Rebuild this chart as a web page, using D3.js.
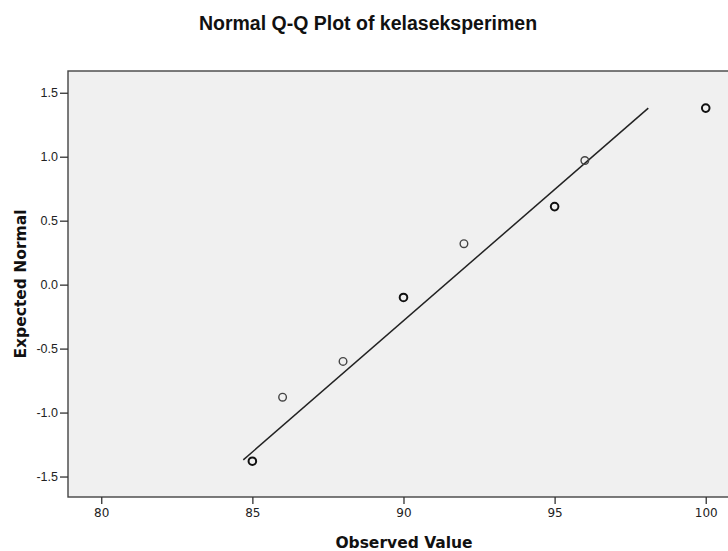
<!DOCTYPE html>
<meta charset="utf-8">
<style>
body { margin: 0; background: #fff; }
.frame { fill: #f0f0f0; stroke: #444; stroke-width: 1.4px; }
.axis path { display: none; }
.axis line { stroke: #333; stroke-width: 1.3px; }
.y.axis text { font-family: "Liberation Sans", Arial, sans-serif; font-size: 12.5px; fill: #222; }
.x.axis text { font-family: "DejaVu Sans", sans-serif; font-size: 12px; fill: #222; }
.label { font-family: "DejaVu Sans", sans-serif; font-weight: bold; font-size: 15.5px; fill: #111; }
.title { font-family: "Liberation Sans", Arial, sans-serif; font-weight: bold; font-size: 19.5px; fill: #111; }
path.fit { fill: none; stroke: #222; stroke-width: 1.5px; }
</style>
<body>
<div id="qq"></div>
</body>
<script src="https://cdn.jsdelivr.net/npm/d3@7"></script>
<script>

// observed values, expected normal quantiles, and how many cases share each point
var observed = [85, 86, 88, 90, 92, 95, 96, 100];
var expected = [-1.38, -0.88, -0.60, -0.10, 0.32, 0.61, 0.97, 1.38];
var counts   = [2, 1, 1, 2, 1, 2, 1, 2];

// reference line end points
var lineX = [84.7, 98.1];
var lineY = [-1.37, 1.38];

var xTicks = [80, 85, 90, 95, 100];
var yTicks = [-1.5, -1.0, -0.5, 0.0, 0.5, 1.0, 1.5];

var width = 728, height = 551;
var plot = {left: 68, top: 71, right: 742, bottom: 497};

var x = d3.scaleLinear().domain([78.9, 101.2]).range([plot.left, plot.right]),
    y = d3.scaleLinear().domain([-1.66, 1.67]).range([plot.bottom, plot.top]);

var svg = d3.select("#qq").append("svg")
    .attr("width", width)
    .attr("height", height);

svg.append("text")
    .attr("class", "title")
    .attr("x", 368)
    .attr("y", 30)
    .attr("text-anchor", "middle")
    .text("Normal Q-Q Plot of kelaseksperimen");

svg.append("rect")
    .attr("class", "frame")
    .attr("x", plot.left)
    .attr("y", plot.top)
    .attr("width", plot.right - plot.left)
    .attr("height", plot.bottom - plot.top);

// plain hyphen for negatives, like the original
svg.append("g")
    .attr("class", "y axis")
    .attr("transform", "translate(" + plot.left + ",0)")
    .call(d3.axisLeft(y).tickValues(yTicks).tickSize(8).tickPadding(2)
      .tickFormat(function(d) { return d.toFixed(1); }));

svg.append("g")
    .attr("class", "x axis")
    .attr("transform", "translate(0," + plot.bottom + ")")
    .call(d3.axisBottom(x).tickValues(xTicks).tickSize(7).tickPadding(4).tickFormat(d3.format("d")));

// the fit line
svg.append("path")
    .attr("class", "fit")
    .attr("d", d3.line()
      .x(function(d) { return x(d[0]); })
      .y(function(d) { return y(d[1]); })(d3.zip(lineX, lineY)));

svg.selectAll("circle.pt")
    .data(d3.range(observed.length))
  .enter().append("circle")
    .attr("class", "pt")
    .attr("cx", function(i) { return x(observed[i]); })
    .attr("cy", function(i) { return y(expected[i]); })
    .attr("r", 3.8)
    .style("fill", "none")
    .style("stroke", function(i) { return counts[i] > 1 ? "#111" : "#444"; })
    .style("stroke-width", function(i) { return counts[i] > 1 ? 2 : 1.4; });

svg.append("text")
    .attr("class", "label")
    .attr("x", 404)
    .attr("y", 548)
    .attr("text-anchor", "middle")
    .text("Observed Value");

svg.append("text")
    .attr("class", "label")
    .attr("transform", "translate(26,284) rotate(-90)")
    .attr("text-anchor", "middle")
    .text("Expected Normal");

</script>
